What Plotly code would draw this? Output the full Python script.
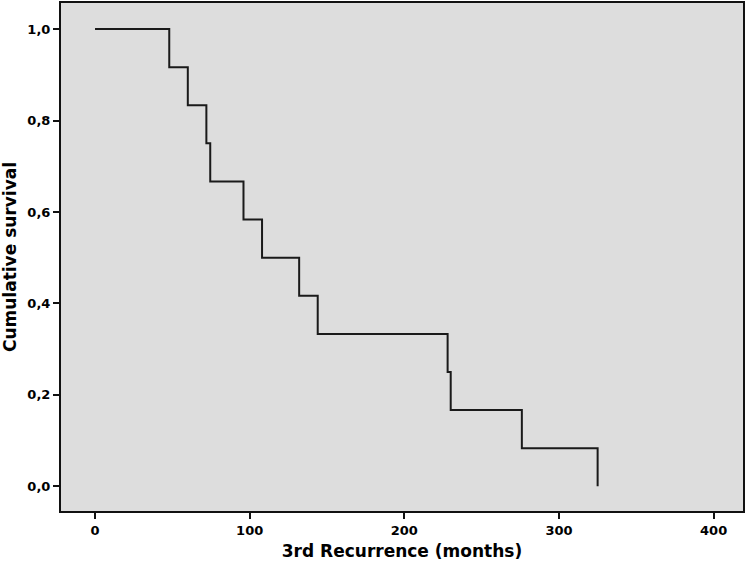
import plotly.graph_objects as go

times = [0, 48, 60, 72, 74.5, 96, 108, 132, 144, 228, 230, 276, 325]
survival = [1.0, 11/12, 10/12, 9/12, 8/12, 7/12, 6/12, 5/12, 4/12, 3/12, 2/12, 1/12, 0.0]
x_ticks = [0, 100, 200, 300, 400]
y_ticks = [0.0, 0.2, 0.4, 0.6, 0.8, 1.0]

fig = go.Figure()
fig.add_trace(go.Scatter(x=times, y=survival, mode="lines", line_shape="hv",
                         line=dict(color="#1a1a1a", width=2), showlegend=False))

font_family = "DejaVu Sans"
fig.update_layout(
    width=750, height=566,
    margin=dict(l=61, r=7, t=1, b=55),
    paper_bgcolor="white", plot_bgcolor="#dddddd",
    separators=",.",
    font=dict(family=font_family, color="#000000"),
)
fig.update_xaxes(range=[-22, 419], tickvals=x_ticks, ticks="outside", ticklen=6, tickwidth=2,
                 tickcolor="#111", showline=True, linecolor="#111", linewidth=2, mirror=True,
                 showgrid=False, zeroline=False,
                 tickfont=dict(size=13, family=font_family, weight="bold", color="#000"),
                 title=dict(text="<b>3rd Recurrence (months)</b>", font=dict(size=17, color="#000"), standoff=9))
fig.update_yaxes(range=[-0.054, 1.057], tickvals=y_ticks, tickformat=".1f", ticks="outside",
                 ticklen=6, tickwidth=2, tickcolor="#111", showline=True, linecolor="#111",
                 linewidth=2, mirror=True, showgrid=False, zeroline=False,
                 tickfont=dict(size=13, family=font_family, weight="bold", color="#000"),
                 title=dict(text="<b>Cumulative survival</b>", font=dict(size=17, color="#000"), standoff=8))

fig.write_html("out.html")
